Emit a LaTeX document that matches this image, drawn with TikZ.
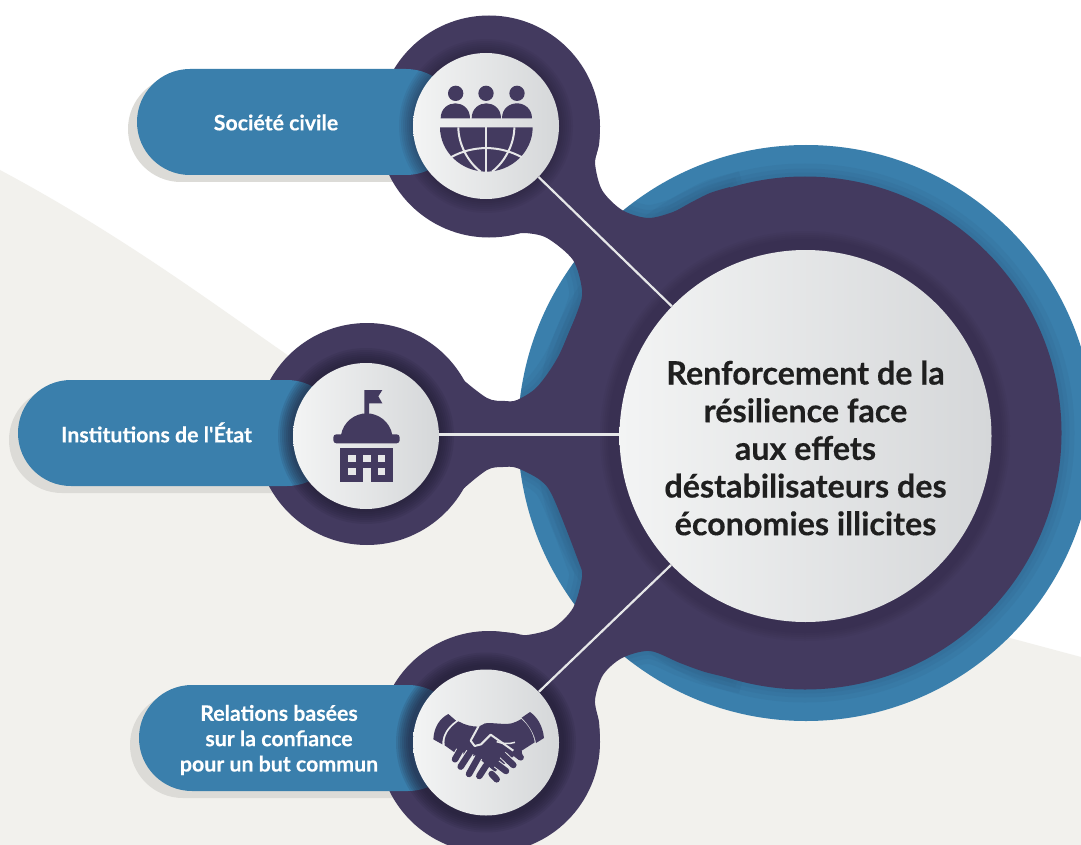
\documentclass[tikz,border=0pt]{standalone}
\usepackage{fontspec}
\setmainfont[BoldFeatures={FakeBold=0.35}]{Lato}
\usetikzlibrary{shapes.misc}
\newcommand{\s}{0.75pt}
\definecolor{ink}{HTML}{433A5F}
\definecolor{pillblue}{HTML}{3A7FAC}
\definecolor{deepblue}{HTML}{2F5F85}
\definecolor{ground}{HTML}{F2F1ED}
\definecolor{pillshadow}{HTML}{DCDBD7}
\definecolor{gap}{HTML}{E6E7E8}
\definecolor{rim}{HTML}{1E1A30}
\definecolor{discleft}{HTML}{F3F4F4}
\definecolor{discright}{HTML}{D5D7D9}
\newcommand{\neckpath}{plot[smooth] coordinates {(600,126) (599,145) (595,163) (602,190) (622,210) (648,218) (673,212) (690,203) (710,193) (730,187)}
    -- (805,433) -- plot[smooth] coordinates {(730,678) (705,672) (680,663) (650,651) (622,658) (603,675) (595,700) (599,722) (600,742)}
    -- (489,742) -- plot[smooth] coordinates {(487,631) (513,633) (527,635) (553,628) (573,608) (582,577) (578,560) (553,497) (540,480) (517,468) (503,467) (487,470) (460,492) (447,511)}
    -- (367,434) -- plot[smooth] coordinates {(445,356) (458,375) (487,398) (505,401) (517,400) (537,387) (558,357) (578,310) (582,290) (573,260) (547,238) (525,233) (510,235) (489,237)}
    -- (489,126) -- cycle}

\begin{document}
\begin{tikzpicture}[x=\s,y=-\s,
    pill/.style={rounded rectangle, fill=pillblue, minimum width=322*\s, minimum height=106*\s, inner sep=0pt},
    shadowpill/.style={pill, fill=pillshadow},
    disc/.style={circle, minimum size=146*\s, inner sep=0pt, left color=discleft, right color=discright},
    coredisc/.style={disc, minimum size=372*\s},
    softrim/.style={fill=rim, opacity=#1},
    bluefall/.style={draw=deepblue, opacity=.15, line width=#1*\s},
    link/.style={draw=gap, line width=2.2*\s},
    pilltext/.style={text=white, font=\bfseries\fontsize{16}{19}\selectfont, align=center},
    coretext/.style={text=black!88, font=\bfseries\fontsize{24.2}{28.25}\selectfont, align=center},
    finger/.style={draw=ink, line width=6.5*\s, line cap=round, preaction={draw=gap, line width=8.5*\s}}]
    \path[use as bounding box, clip] (0,0) rectangle (1081,845);
    \fill[white] (0,0) rectangle (1081,845);

    % Ground
    \fill[ground] (0,170) .. controls (150,250) and (260,340) .. (340,390) .. controls (400,425) and (480,450) .. (520,455) -- (1010,638) -- (1081,657) -- (1081,845) -- (0,845) -- cycle;

    % Pill shadows
    \node[shadowpill] (shadow-1) at (289,129) {};
    \node[shadowpill] (shadow-2) at (170,440) {};
    \node[shadowpill] (shadow-3) at (291,745) {};

    % Blue ring
    \fill[pillblue] (806,433) circle (288);
    \begin{scope}
        \clip (806,433) circle (288);
        \foreach \w in {26,16,8} {
            \draw[bluefall=\w] \neckpath;
            \draw[bluefall=\w] (805,433) circle (256.5);
        }
    \end{scope}

    % Purple body
    \fill[ink] (805,433) circle (256.5);
    \fill[ink] (489,126.5) circle (111);
    \fill[ink] (367,434) circle (111);
    \fill[ink] (489,742) circle (111);
    \fill[ink] \neckpath;

    % Pills
    \node[pill] (pill-1) at (298,122) {};
    \node[pill] (pill-2) at (179,433) {};
    \node[pill] (pill-3) at (300,738) {};

    % Soft rims
    \foreach \r in {75,77,...,87} {
        \fill[softrim=.07] (486,126) circle (\r);
        \fill[softrim=.11] (366,436) circle (\r+1);
        \fill[softrim=.12] (486,742.5) circle (\r+3);
    }
    \foreach \r in {197,199,...,205} {
        \fill[softrim=.05] (805,436) circle (\r);
    }

    % Discs
    \node[disc] (society) at (486,126) {};
    \node[disc] (state) at (366,436) {};
    \node[disc] (trust) at (486,742.5) {};
    \node[coredisc] (core) at (805.5,436) {};

    % Links
    \draw[link] (society) -- (core);
    \draw[link] ([yshift=1.2pt]state.east) -- ([yshift=1.2pt]core.west);
    \draw[link] (trust) -- (core);

    % Texts
    \node[pilltext] (society-text) at (276,122.5) {Société civile};
    \node[pilltext] (state-text) at (156.5,432.5) {Institutions de l\textquotesingle État};
    \node[pilltext] (trust-text) at (279,740) {Relations basées\\sur la confiance\\pour un but commun};
    \node[coretext] (core-text) at (805.5,448) {Renforcement de la\\résilience face\\aux effets\\déstabilisateurs des\\économies illicites};

    % People and globe
    \begin{scope}[shift={(380,0)}, x=\s/3, y=-\s/3]
        \fill[ink] (227,280) circle (23);
        \fill[ink] (318,280) circle (23);
        \fill[ink] (411,280) circle (23);
        \fill[ink] (182,355) .. controls (182,325) and (205,310) .. (226,310) .. controls (247,310) and (270,325) .. (270,355) -- cycle;
        \fill[ink] (275,355) .. controls (275,325) and (298,310) .. (319,310) .. controls (340,310) and (363,325) .. (363,355) -- cycle;
        \fill[ink] (366,355) .. controls (366,325) and (389,310) .. (411,310) .. controls (432,310) and (456,325) .. (456,355) -- cycle;
        \fill[ink] (180,382) -- (458,382) .. controls (458,455) and (395,515) .. (319,515) .. controls (243,515) and (180,455) .. (180,382) -- cycle;
        \draw[gap, line width=2*\s] (319,382) -- (319,515);
        \draw[gap, line width=2*\s] (235,382) .. controls (235,430) and (262,485) .. (302,515);
        \draw[gap, line width=2*\s] (403,382) .. controls (403,430) and (376,485) .. (336,515);
        \draw[gap, line width=2*\s] (212,472) .. controls (280,435) and (358,435) .. (426,472);
    \end{scope}

    % Building
    \begin{scope}[shift={(260,320)}, x=\s/3, y=-\s/3]
        \fill[ink] (313,210) -- (367,210) -- (355,229) -- (367,250) -- (327,250) -- (327,290) -- (313,290) -- cycle;
        \fill[ink] (243,345) .. controls (250,305) and (285,280) .. (320,280) .. controls (355,280) and (390,305) .. (397,345) -- cycle;
        \fill[ink, rounded corners=3*\s] (220,343) rectangle (419,370);
        \fill[ink] (240,385) rectangle (400,485);
        \fill[gap] (264,405) rectangle (287,427);
        \fill[gap] (309,405) rectangle (332,427);
        \fill[gap] (354,405) rectangle (376,427);
        \fill[gap] (264,443) rectangle (287,465);
        \fill[gap] (354,443) rectangle (376,465);
        \fill[gap] (309,443) rectangle (332,485);
    \end{scope}

    % Handshake
    \begin{scope}[shift={(380,560)}, x=\s/3, y=-\s/3]
        \fill[ink] (205,462) .. controls (180,475) and (162,500) .. (160,538) -- (187,553) .. controls (186,525) and (202,500) .. (228,482) -- cycle;
        \fill[ink] (450,456) .. controls (470,470) and (488,495) .. (492,534) -- (468,549) .. controls (463,520) and (447,495) .. (425,473) -- cycle;
        \fill[ink] (235,484) .. controls (255,495) and (275,500) .. (296,500) -- (315,490) .. controls (340,487) and (370,495) .. (395,490) .. controls (405,488) and (415,482) .. (424,477) .. controls (445,495) and (460,520) .. (464,547) -- (425,572) -- (428,592) -- (405,585) -- (345,635) -- (290,590) -- (225,578) -- (194,556) .. controls (190,530) and (205,505) .. (235,484) -- cycle;
        \draw[finger] (240,572) -- (225,598);
        \draw[finger] (270,577) -- (242,620);
        \draw[finger] (295,592) -- (267,642);
        \draw[finger] (318,617) -- (298,648);
        \draw[finger] (368,585) -- (400,615);
        \draw[finger] (350,612) -- (378,633);
        \draw[finger] (335,642) -- (350,658);
        \draw[ink, line width=6.5*\s, line cap=round] (400,575) -- (422,592);
        \draw[gap, line width=2*\s, line join=round] (296,498) -- (272,542) -- (284,558) -- (303,553) -- (332,524) -- (400,572);
        \draw[gap, line width=1.5*\s] (350,545) .. controls (368,552) and (388,552) .. (405,547);
    \end{scope}
\end{tikzpicture}
\end{document}
